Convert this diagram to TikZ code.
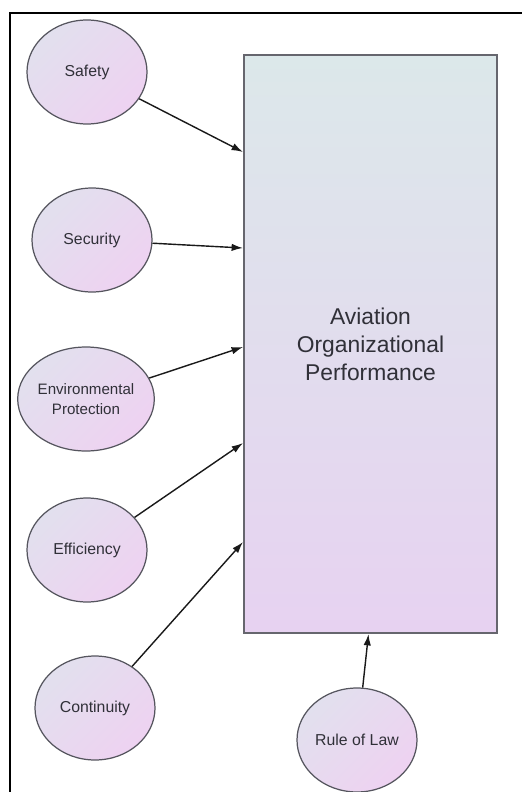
\documentclass[tikz,border=0pt]{standalone}
\usepackage{fontspec}
\setmainfont{Liberation Sans}
\usetikzlibrary{arrows.meta,shapes.geometric}

\definecolor{ellgray}{HTML}{E2E0EE}
\definecolor{ellpink}{HTML}{EED2F1}
\definecolor{boxtop}{HTML}{DCE8EA}
\definecolor{boxbot}{HTML}{E7D2F1}
\definecolor{edgegray}{HTML}{55555E}
\definecolor{txtgray}{HTML}{303038}

\tikzset{
  factor/.style={ellipse,draw=edgegray,line width=0.7pt,
    top color=ellgray,bottom color=ellpink,shading angle=45,
    minimum width=2.4cm,minimum height=2.08cm,inner sep=0pt,
    align=center,text=txtgray,font=\fontsize{9}{11.3}\selectfont},
  perfbox/.style={rectangle,draw=edgegray!90,line width=1.1pt,
    top color=boxtop,bottom color=boxbot,
    minimum width=5.06cm,minimum height=11.56cm,inner sep=0pt,
    align=center,text=txtgray,font=\fontsize{13}{15.9}\selectfont},
  link/.style={line width=0.8pt,draw=black!90,->}
}

\begin{document}
\begin{tikzpicture}[>={Latex[length=6.5pt,width=4.2pt]}]
\useasboundingbox (0,0) rectangle (10.44,-15.84);
% frame (only top and left edge are in view)
\draw[line width=1.2pt] (0.2,-15.84) -- (0.2,-0.26) -- (10.44,-0.26);

% main box
\node[perfbox] (perf) at (7.41,-6.88) {Aviation\\Organizational\\Performance};

% factors
\node[factor] (safety) at (1.74,-1.44) {Safety};
\node[factor] (security) at (1.84,-4.80) {Security};
\node[factor,font=\fontsize{8.6}{11.3}\selectfont] (environ) at (1.72,-7.98) {Environmental\\Protection};
\node[factor] (efficiency) at (1.74,-11.00) {Efficiency};
\node[factor] (continuity) at (1.90,-14.16) {Continuity};
\node[factor] (law) at (7.14,-14.80) {Rule of Law};

% arrows into the box
\draw[link] (safety) -- ([yshift=3.84cm]perf.west);
\draw[link] (security) -- ([yshift=1.92cm]perf.west);
\draw[link] (environ) -- ([yshift=-0.06cm]perf.west);
\draw[link] (efficiency) -- ([yshift=-1.98cm]perf.west);
\draw[link] (continuity) -- ([yshift=-3.96cm]perf.west);
\draw[link] (law) -- ([xshift=-0.04cm]perf.south);
\end{tikzpicture}
\end{document}
